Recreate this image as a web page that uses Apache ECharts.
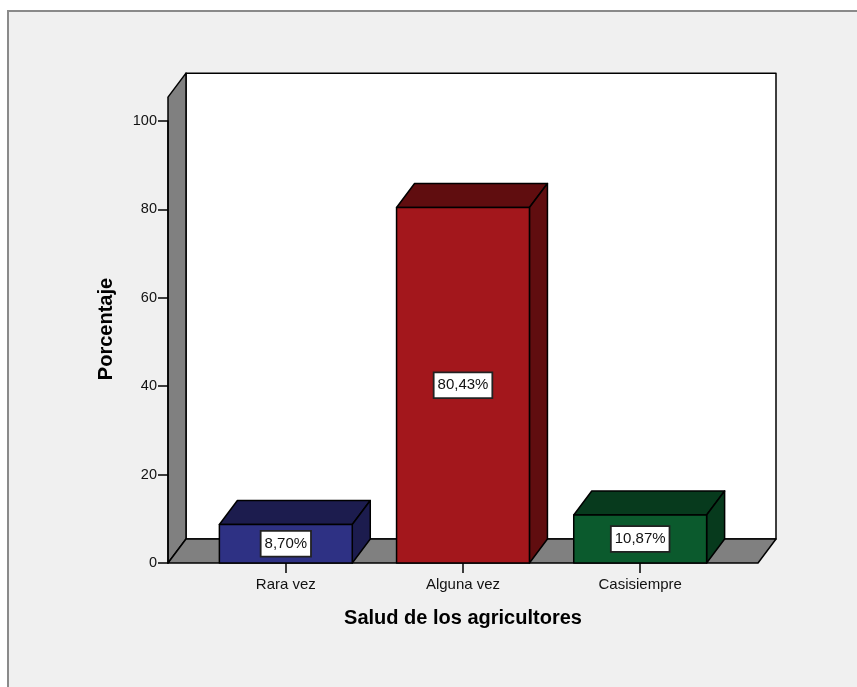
<!DOCTYPE html>
<html>
<head>
<meta charset="utf-8">
<script src="https://cdn.jsdelivr.net/npm/echarts@6/dist/echarts.min.js"></script>
<style>html,body{margin:0;padding:0;background:#fff}#c{width:857px;height:687px}</style>
</head>
<body>
<div id="c"></div>
<script>
const categories = ['Rara vez', 'Alguna vez', 'Casisiempre'];
const values = [8.70, 80.43, 10.87];
const labels = ['8,70%', '80,43%', '10,87%'];
const yTicks = [0, 20, 40, 60, 80, 100];

const X_MIN = -0.665, X_MAX = 2.665, WALL_TOP = 105.4;
const DX = 18, DY = -24, BAR_W = 0.75;
const front = ['#2e3184', '#a3171c', '#0b5a2d'];
const dark = ['#1c1c4e', '#600d0f', '#073a1d'];
const FONT = '"Liberation Sans", Arial, sans-serif';

const chart = echarts.init(document.getElementById('c'));
chart.setOption({
  backgroundColor: '#ffffff',
  animation: false,
  graphic: [
    {type: 'rect', z: -100, silent: true, shape: {x: 8, y: 11, width: 900, height: 700},
     style: {fill: '#f0f0f0', stroke: '#8a8a8a', lineWidth: 2}},
    {type: 'text', rotation: Math.PI / 2, z: 10, x: 106, y: 329,
     style: {text: 'Porcentaje', font: 'bold 20px ' + FONT, fill: '#000',
             align: 'center', verticalAlign: 'middle'}}
  ],
  grid: {left: 168, right: 99, top: 121, bottom: 124, containLabel: false},
  xAxis: {
    type: 'value', min: X_MIN, max: X_MAX,
    splitLine: {show: false},
    axisLine: {show: false, onZero: false},
    axisTick: {show: true, customValues: [0, 1, 2], length: 10, lineStyle: {color: '#000', width: 1.5}},
    axisLabel: {show: true, customValues: [0, 1, 2], margin: 14, color: '#111', fontSize: 15,
                fontFamily: FONT,
                formatter: v => categories[Math.round(v)] || ''},
    name: 'Salud de los agricultores', nameLocation: 'middle', nameGap: 45,
    nameTextStyle: {color: '#000', fontSize: 20, fontWeight: 'bold', fontFamily: FONT}
  },
  yAxis: {
    type: 'value', min: 0, max: 100, interval: 20,
    splitLine: {show: false},
    axisLine: {show: true, onZero: false, lineStyle: {color: '#000', width: 1.5}},
    axisTick: {show: true, length: 10, customValues: yTicks, lineStyle: {color: '#000', width: 1.5}},
    axisLabel: {color: '#111', fontSize: 14.5, margin: 11, fontFamily: FONT,
                customValues: yTicks}
  },
  series: [
    {
      type: 'custom', z: -1, clip: false, silent: true,
      data: [[X_MIN, 0]],
      renderItem: function (params, api) {
        const p0 = api.coord([X_MIN, 0]);
        const p1 = api.coord([X_MAX, 0]);
        const pt = api.coord([X_MIN, WALL_TOP]);
        const st = {stroke: '#000', lineWidth: 1.5, lineJoin: 'round'};
        return {type: 'group', children: [
          {type: 'polygon', shape: {points: [[pt[0] + DX, pt[1] + DY], [p1[0] + DX, pt[1] + DY], [p1[0] + DX, p1[1] + DY], [p0[0] + DX, p0[1] + DY]]},
           style: Object.assign({fill: '#ffffff'}, st)},
          {type: 'polygon', shape: {points: [[p0[0], p0[1]], [pt[0], pt[1]], [pt[0] + DX, pt[1] + DY], [p0[0] + DX, p0[1] + DY]]},
           style: Object.assign({fill: '#808080'}, st)},
          {type: 'polygon', shape: {points: [[p0[0], p0[1]], [p1[0], p1[1]], [p1[0] + DX, p1[1] + DY], [p0[0] + DX, p0[1] + DY]]},
           style: Object.assign({fill: '#808080'}, st)}
        ]};
      }
    },
    {
      type: 'custom', z: 3, clip: false,
      data: values.map((v, i) => [i, v]),
      renderItem: function (params, api) {
        const i = params.dataIndex;
        const x = api.value(0), v = api.value(1);
        const tl = api.coord([x - BAR_W / 2, v]);
        const br = api.coord([x + BAR_W / 2, 0]);
        const st = {stroke: '#000', lineWidth: 1.5, lineJoin: 'round'};
        const cx = (tl[0] + br[0]) / 2, cy = (tl[1] + br[1]) / 2;
        return {type: 'group', children: [
          {type: 'polygon', shape: {points: [[tl[0], tl[1]], [tl[0] + DX, tl[1] + DY], [br[0] + DX, tl[1] + DY], [br[0], tl[1]]]},
           style: Object.assign({fill: dark[i]}, st)},
          {type: 'polygon', shape: {points: [[br[0], tl[1]], [br[0] + DX, tl[1] + DY], [br[0] + DX, br[1] + DY], [br[0], br[1]]]},
           style: Object.assign({fill: dark[i]}, st)},
          {type: 'rect', shape: {x: tl[0], y: tl[1], width: br[0] - tl[0], height: br[1] - tl[1]},
           style: Object.assign({fill: front[i]}, st)},
          {type: 'text', x: cx, y: cy, z2: 10,
           style: {text: labels[i], fill: '#111', font: '15px ' + FONT,
                   align: 'center', verticalAlign: 'middle', backgroundColor: '#fff',
                   borderColor: '#222', borderWidth: 1.8, padding: [5, 3, 4, 3]}}
        ]};
      }
    }
  ]
});
</script>
</body>
</html>
